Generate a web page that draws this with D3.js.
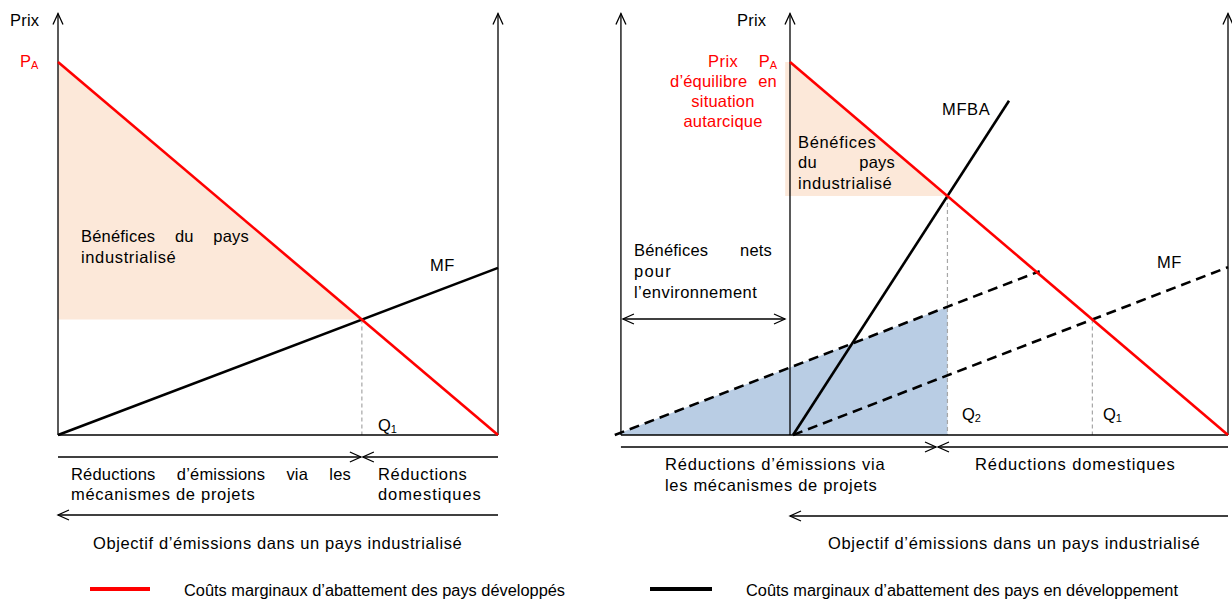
<!DOCTYPE html>
<html>
<head>
<meta charset="utf-8">
<script src="https://cdn.jsdelivr.net/npm/d3@7"></script>
<style>
  body { margin: 0; background: #fff; }
  text { font-family: "Liberation Sans", Arial, sans-serif; }
</style>
</head>
<body>
<script>
var width = 1232,
    height = 601;

// curves, in (quantity, price) units; price 100 = PA
var redLeft    = [[0, 100], [100, 0]];
var mfLeft     = [[0, 0], [100, 44.8]];
var redRight   = [[0, 100], [100, 0]];
var mfbaRight  = [[0.7, 0], [50, 89.6]];
var mfDomestic = [[0.7, 0], [100, 45]];
var mfWorld    = [[-40, 0], [57, 43.9]];
var axesLeft   = [0, 100];
var axesRight  = [-38.6, 0, 100];
var axisTop    = 113;

var legendItems = ["Coûts marginaux d’abattement des pays développés",
                   "Coûts marginaux d’abattement des pays en développement"];
var legendColors = ["#ff0000", "#000000"];

var svg = d3.select("body")
  .append("svg")
  .attr("width", width)
  .attr("height", height);

var y  = d3.scaleLinear().domain([0, 100]).range([435, 62]);
var xL = d3.scaleLinear().domain([0, 100]).range([58, 498]);
var xR = d3.scaleLinear().domain([0, 100]).range([790, 1228]);

function cross(a, b) {
  var m1 = (a[1][1] - a[0][1]) / (a[1][0] - a[0][0]),
      m2 = (b[1][1] - b[0][1]) / (b[1][0] - b[0][0]);
  var q = (b[0][1] - a[0][1] + m1 * a[0][0] - m2 * b[0][0]) / (m1 - m2);
  return [q, a[0][1] + m1 * (q - a[0][0])];
}
function at(seg, q) {
  var m = (seg[1][1] - seg[0][1]) / (seg[1][0] - seg[0][0]);
  return seg[0][1] + m * (q - seg[0][0]);
}

var q1L = cross(redLeft, mfLeft);
var q2R = cross(redRight, mfbaRight);
var q1R = cross(redRight, mfDomestic);

var g = svg.append("g");

// fills
var peach = "#fce8d9", blue = "#b9cde4";
function area(pts, x) {
  return d3.line().x(function(d){ return x(d[0]) }).y(function(d){ return y(d[1]) })(pts);
}
g.append("path").attr("d", area([[0, 100], q1L, [0, q1L[1]]], xL)).attr("fill", peach);
g.append("path").attr("d", area([[-1.1, 100], [0, 100], q2R, [-1.1, q2R[1]]], xR)).attr("fill", peach);
g.append("path").attr("d", area([mfWorld[0], [q2R[0], at(mfWorld, q2R[0])], [q2R[0], 0]], xR)).attr("fill", blue);

// dashed guides
function guide(x, p) {
  g.append("line")
    .attr("x1", x).attr("x2", x).attr("y1", y(p)).attr("y2", y(0))
    .attr("stroke", "#a6a6a6").attr("stroke-width", 1.2).attr("stroke-dasharray", "4,3");
}
guide(xL(q1L[0]), q1L[1]);
guide(xR(q2R[0]), q2R[1]);
guide(xR(q1R[0]), q1R[1]);

// axes
function vaxis(x) {
  g.append("line").attr("x1", x).attr("x2", x).attr("y1", y(0)).attr("y2", y(axisTop))
    .attr("stroke", "#000").attr("stroke-width", 1.3);
  chev(x, y(axisTop), "up");
}
function hline(x1, x2, yy) {
  g.append("line").attr("x1", x1).attr("x2", x2).attr("y1", yy).attr("y2", yy)
    .attr("stroke", "#000").attr("stroke-width", 1.3);
}
function chev(x, yy, dir) {
  var p;
  if (dir == "up")    p = [[x - 5, yy + 11], [x, yy], [x + 5, yy + 11]];
  if (dir == "right") p = [[x - 11, yy - 5], [x, yy], [x - 11, yy + 5]];
  if (dir == "left")  p = [[x + 11, yy - 5], [x, yy], [x + 11, yy + 5]];
  g.append("polyline").attr("points", p.join(" "))
    .attr("fill", "none").attr("stroke", "#000").attr("stroke-width", 1.3);
}
axesLeft.forEach(function(q){ vaxis(xL(q)) });
axesRight.forEach(function(q){ vaxis(xR(q)) });
hline(xL(0), xL(100), y(0));
hline(xR(axesRight[0]), xR(100), y(0));

// curves
function curve(seg, x, color, dash) {
  g.append("line")
    .attr("x1", x(seg[0][0])).attr("y1", y(seg[0][1]))
    .attr("x2", x(seg[1][0])).attr("y2", y(seg[1][1]))
    .attr("stroke", color).attr("stroke-width", 2.6)
    .attr("stroke-dasharray", dash || null);
}
curve(mfLeft, xL, "#000");
curve(redLeft, xL, "#ff0000");
curve(mfWorld, xR, "#000", "10,6");
curve(mfDomestic, xR, "#000", "10,6");
curve(mfbaRight, xR, "#000");
curve(redRight, xR, "#ff0000");

// arrows under the panels
var midL = xL(q1L[0]);
hline(xL(0), midL - 1, 457); chev(midL - 1, 457, "right");
hline(midL + 1, xL(100), 457); chev(midL + 1, 457, "left");
hline(xL(0), xL(100), 515); chev(xL(0), 515, "left");

var midR = 937;
hline(xR(axesRight[0]), midR - 1, 447); chev(midR - 1, 447, "right");
hline(midR + 1, xR(100), 447); chev(midR + 1, 447, "left");
hline(xR(0), xR(100), 516); chev(xR(0), 516, "left");

hline(xR(axesRight[0]) + 2, xR(0) - 5, 319);
chev(xR(axesRight[0]) + 2, 319, "left"); chev(xR(0) - 5, 319, "right");

// text
var fs = 16.5;
function txt(s, x, yy, o) {
  o = o || {};
  var t = g.append("text").text(s)
    .attr("x", x).attr("y", yy)
    .attr("font-size", o.size || fs)
    .attr("letter-spacing", o.ls == null ? 0.2 : o.ls)
    .attr("fill", o.color || "#000")
    .attr("text-anchor", o.anchor || "start");
  if (o.x1) t.attr("textLength", o.x1 - x).attr("lengthAdjust", "spacing");
  return t;
}
function justified(s, x0, x1, yy, color) {
  var words = s.split(" ");
  var els = words.map(function(w){ return txt(w, 0, yy, {color: color}) });
  var ws = els.map(function(e){ return e.node().getComputedTextLength() });
  var gap = (x1 - x0 - d3.sum(ws)) / (words.length - 1);
  var x = x0;
  els.forEach(function(e, i){ e.attr("x", x); x += ws[i] + gap; });
}
function sub(main, s, x, yy, color, anchor) {
  var t = txt(main, x, yy, {color: color, anchor: anchor, ls: 0});
  t.append("tspan").text(s).attr("font-size", 11).attr("dy", 2);
}

// left panel labels
txt("Prix", 10, 26, {x1: 39, ls: 0});
sub("P", "A", 20, 67, "#ff0000");
justified("Bénéfices du pays", 81, 249, 242);
txt("industrialisé", 81, 263, {x1: 176});
txt("MF", 430, 271, {ls: 0.5});
sub("Q", "1", 378, 431, "#000");
justified("Réductions d’émissions via les", 71, 351, 480);
txt("mécanismes de projets", 71, 500, {x1: 255});
txt("Réductions", 378, 480, {x1: 467});
txt("domestiques", 378, 500, {x1: 481});
txt("Objectif d’émissions dans un pays industrialisé", 93, 549, {x1: 462});

// right panel labels
txt("Prix", 737, 26, {x1: 766, ls: 0});
txt("Prix", 708, 67, {color: "#ff0000", x1: 738});
sub("P", "A", 777, 67, "#ff0000", "end");
justified("d’équilibre en", 670, 777, 87, "#ff0000");
txt("situation", 723, 107, {color: "#ff0000", anchor: "middle"});
txt("autarcique", 723, 127, {color: "#ff0000", anchor: "middle"});
txt("Bénéfices", 798, 148, {x1: 876});
justified("du pays", 798, 895, 168);
txt("industrialisé", 798, 189, {x1: 892});
txt("MFBA", 942, 115, {x1: 990});
justified("Bénéfices nets", 634, 772, 256);
txt("pour", 634, 277, {x1: 671});
txt("l’environnement", 634, 298, {x1: 757});
txt("MF", 1157, 268, {ls: 0.5});
sub("Q", "2", 962, 420, "#000");
sub("Q", "1", 1103, 420, "#000");
txt("Réductions d’émissions via", 665, 470, {x1: 885});
txt("les mécanismes de projets", 665, 491, {x1: 877});
txt("Réductions domestiques", 975, 470, {x1: 1175});
txt("Objectif d’émissions dans un pays industrialisé", 828, 549, {x1: 1200});

// legend
var legX = [[90, 150, 184, 565], [650, 712, 746, 1178]];
legendItems.forEach(function(s, i){
  var l = legX[i];
  g.append("line").attr("x1", l[0]).attr("x2", l[1]).attr("y1", 589).attr("y2", 589)
    .attr("stroke", legendColors[i]).attr("stroke-width", 4);
  g.append("text").text(s)
    .attr("x", l[2]).attr("y", 596)
    .attr("font-size", 16)
    .attr("font-family", "'Liberation Sans Narrow', 'Liberation Sans', Arial, sans-serif")
    .attr("textLength", l[3] - l[2]).attr("lengthAdjust", "spacingAndGlyphs");
});
</script>
</body>
</html>
